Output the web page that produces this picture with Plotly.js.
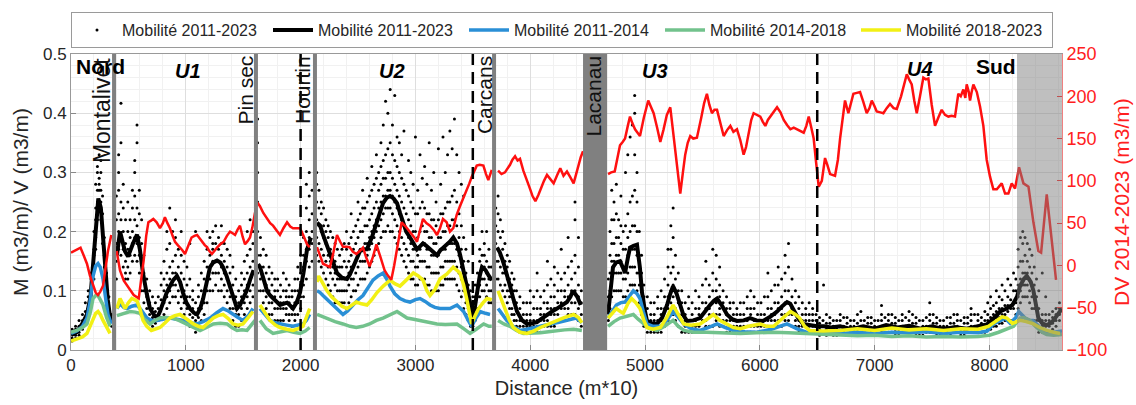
<!DOCTYPE html>
<html><head><meta charset="utf-8">
<script src="https://cdn.plot.ly/plotly-3.0.1.min.js"></script>
<style>html,body{margin:0;padding:0;background:#fff}#chart{width:1136px;height:405px}</style>
</head><body><div id="chart"></div>
<script>
// ---- Data ----
// Smoothed mobility 2011-2023 (black line); null = break at boundary lines
const blackX = [0,50,100,139,170,192,215,238,260,280,296,320,345,375,
400,427,470,497,540,575,600,627,660,688,720,749,775,801,830,862,890,923,950,975,1005,1036,1070,1098,1125,1150,1180,1211,1240,1272,1300,1324,1355,1385,1415,1446,1470,1498,1530,1559,1590,1611,
1630,1646,1680,1707,1735,1760,1790,1820,1850,1882,1910,1934,1965,1995,2025,2056,2090,2125,
2143,2170,2195,2225,2256,2290,2317,2360,2404,2430,2456,2490,2517,2550,2578,2620,2665,2690,2718,2750,2779,2810,2840,2865,2892,2920,2953,2985,3014,3040,3066,3095,3127,3160,3188,3215,3240,3270,3300,3330,3362,3390,3414,3445,3476,3495,3520,3536,3560,3580,3610,3640,3665,3685,
3711,3735,3763,3795,3824,3855,3885,3930,3972,4015,4059,4100,4146,4190,4233,4275,4320,4350,4373,4410,4440,4560,
4678,4700,4721,4750,4782,4805,4826,4850,4869,4900,4930,4955,4974,5000,5017,5060,5104,5150,5192,5220,5244,5275,5305,5336,5366,5420,5479,5520,5566,5600,5627,5670,5714,5760,5801,5860,5915,5970,6028,6090,6150,6195,6237,6265,6289,6330,6376,6440,6498,6560,6620,6699,6750,6800,6900,7000,7100,7200,7300,7400,7500,7600,7700,7800,7900,7976,8030,8093,8150,8200,8240,8267,8300,8325,8360,8383,8426,8460,8499,8530,8557,8590,8632];
const blackY = [0.025,0.03,0.045,0.06,0.09,0.14,0.2,0.256,0.24,0.19,0.14,0.085,0.05,null,
0.16,0.2,0.167,0.158,0.18,0.195,0.17,0.13,0.095,0.07,0.06,0.054,0.065,0.08,0.095,0.108,0.118,0.125,0.115,0.097,0.08,0.07,0.063,0.06,0.07,0.086,0.115,0.14,0.148,0.151,0.148,0.14,0.125,0.108,0.088,0.07,0.075,0.086,0.1,0.118,0.135,null,
0.145,0.14,0.118,0.1,0.092,0.087,0.08,0.076,0.078,0.08,0.075,0.07,0.08,0.097,0.13,0.17,0.19,null,
0.215,0.21,0.195,0.18,0.162,0.145,0.13,0.122,0.12,0.128,0.14,0.155,0.167,0.17,0.17,0.19,0.215,0.232,0.248,0.257,0.26,0.256,0.248,0.232,0.215,0.2,0.19,0.178,0.17,0.175,0.18,0.176,0.17,0.163,0.16,0.168,0.172,0.178,0.183,0.19,0.18,0.16,0.14,0.11,0.08,0.055,0.075,0.097,0.125,0.14,0.135,0.125,0.118,null,
0.173,0.165,0.15,0.13,0.108,0.085,0.065,0.05,0.044,0.045,0.047,0.053,0.06,0.065,0.07,0.076,0.081,0.09,0.1,0.09,0.076,null,
0.06,0.1,0.14,0.148,0.15,0.14,0.13,0.155,0.173,0.176,0.178,0.14,0.097,0.065,0.049,0.045,0.044,0.055,0.076,0.095,0.108,0.095,0.076,0.058,0.049,0.05,0.054,0.065,0.076,0.083,0.087,0.075,0.06,0.052,0.049,0.05,0.054,0.05,0.049,0.056,0.065,0.074,0.081,0.078,0.07,0.055,0.044,0.042,0.04,0.04,0.038,0.04,0.038,0.035,0.04,0.036,0.042,0.038,0.041,0.036,0.04,0.035,0.039,0.036,0.04,0.043,0.052,0.065,0.07,0.076,0.09,0.108,0.12,0.125,0.115,0.1,0.054,0.045,0.042,0.045,0.05,0.06,0.07];

// Mobility 2011-2014 (blue)
const blueX = [0,50,100,139,165,192,215,235,255,279,300,322,351,375,
400,427,460,488,530,575,610,662,700,749,800,862,920,975,1040,1098,1150,1211,1270,1324,1370,1411,1455,1498,1545,1585,1611,
1646,1690,1733,1780,1820,1880,1934,1980,2021,2050,2079,2125,
2143,2170,2195,2240,2282,2330,2369,2410,2456,2500,2543,2590,2630,2675,2718,2750,2779,2820,2866,2910,2953,3000,3040,3085,3127,3170,3214,3260,3301,3362,3420,3460,3490,3530,3565,3610,3650,3685,
3720,3760,3795,3850,3911,3970,4030,4100,4175,4250,4320,4400,4450,4560,
4678,4710,4750,4790,4826,4860,4898,4930,4956,4985,5017,5070,5133,5190,5244,5290,5336,5400,5479,5550,5627,5700,5772,5870,5975,6100,6237,6320,6405,6550,6699,6850,7000,7150,7300,7450,7600,7750,7900,7980,8034,8100,8135,8180,8230,8255,8290,8310,8350,8380,8430,8502,8560,8632];
const blueY = [0.028,0.032,0.04,0.054,0.08,0.125,0.142,0.146,0.14,0.12,0.09,0.06,0.044,null,
0.07,0.078,0.072,0.07,0.074,0.076,0.068,0.054,0.05,0.05,0.052,0.054,0.052,0.05,0.046,0.044,0.048,0.054,0.063,0.07,0.066,0.06,0.055,0.05,0.058,0.07,null,
0.07,0.06,0.05,0.046,0.044,0.042,0.04,0.042,0.044,0.05,0.06,null,
0.1,0.097,0.092,0.084,0.076,0.066,0.06,0.066,0.076,0.085,0.092,0.105,0.118,0.125,0.13,0.12,0.108,0.095,0.087,0.083,0.081,0.085,0.087,0.082,0.076,0.072,0.07,0.07,0.07,0.076,0.065,0.05,0.04,0.055,0.065,0.062,0.06,null,
0.07,0.06,0.05,0.04,0.033,0.035,0.038,0.04,0.044,0.047,0.05,0.054,0.046,null,
0.054,0.065,0.076,0.08,0.081,0.09,0.1,0.095,0.087,0.065,0.044,0.04,0.04,0.05,0.065,0.055,0.044,0.036,0.033,0.038,0.044,0.038,0.033,0.031,0.03,0.035,0.044,0.036,0.03,0.029,0.028,0.03,0.028,0.03,0.029,0.031,0.028,0.03,0.029,0.032,0.044,0.05,0.054,0.045,0.055,0.065,0.058,0.054,0.05,0.05,0.04,0.03,0.03,0.032];

// Mobility 2014-2018 (green)
const greenX = [0,50,100,139,170,192,215,235,255,279,310,340,375,
400,427,470,514,560,600,640,688,730,775,830,888,940,1001,1060,1124,1180,1240,1300,1359,1400,1446,1490,1533,1570,1603,1611,
1646,1700,1760,1820,1882,1940,1995,2040,2079,2125,
2143,2190,2230,2300,2369,2430,2485,2540,2601,2660,2718,2780,2840,2880,2927,2985,3040,3110,3188,3260,3327,3362,3420,3476,3530,3594,3640,3665,3685,
3720,3770,3824,3880,3940,4000,4088,4160,4233,4300,4378,4450,4560,
4678,4730,4782,4840,4898,4940,4985,5040,5104,5170,5244,5290,5340,5420,5537,5650,5830,5970,6120,6250,6405,6550,6699,6850,7000,7150,7300,7450,7600,7750,7900,8000,8080,8150,8210,8267,8300,8353,8400,8460,8499,8560,8632];
const greenY = [0.03,0.033,0.038,0.044,0.065,0.087,0.092,0.092,0.085,0.076,0.055,0.04,null,
0.058,0.06,0.062,0.065,0.064,0.062,0.052,0.044,0.05,0.054,0.055,0.054,0.05,0.044,0.038,0.033,0.038,0.044,0.045,0.044,0.038,0.033,0.034,0.033,0.042,0.05,null,
0.05,0.036,0.028,0.031,0.033,0.03,0.028,0.032,0.038,null,
0.06,0.056,0.054,0.048,0.044,0.04,0.038,0.04,0.044,0.05,0.054,0.06,0.065,0.06,0.054,0.052,0.05,0.046,0.044,0.043,0.044,0.044,0.036,0.028,0.035,0.044,0.04,0.04,null,
0.05,0.044,0.04,0.033,0.028,0.028,0.029,0.031,0.033,0.034,0.035,0.033,null,
0.04,0.048,0.054,0.057,0.06,0.052,0.044,0.036,0.033,0.04,0.05,0.04,0.033,0.03,0.03,0.029,0.028,0.029,0.03,0.029,0.028,0.027,0.026,0.024,0.025,0.023,0.024,0.022,0.023,0.022,0.023,0.025,0.03,0.035,0.04,0.054,0.055,0.05,0.04,0.03,0.026,0.025,0.026];

// Mobility 2018-2023 (yellow)
const yellowX = [0,50,100,139,165,192,215,235,255,279,310,340,375,
400,427,450,470,500,530,575,600,627,660,700,740,775,820,862,905,949,1010,1066,1110,1150,1195,1240,1280,1324,1370,1411,1455,1498,1545,1585,1611,
1646,1690,1733,1780,1820,1880,1934,1980,2021,2050,2079,2125,
2143,2157,2195,2230,2270,2317,2360,2404,2445,2485,2530,2578,2620,2665,2720,2779,2820,2866,2920,2982,3025,3066,3100,3127,3170,3214,3272,3330,3388,3420,3446,3470,3490,3520,3550,3590,3624,3665,3685,
3720,3750,3780,3815,3853,3910,3972,4030,4088,4160,4233,4300,4378,4420,4450,4560,
4678,4715,4750,4785,4811,4850,4883,4920,4956,4990,5017,5070,5133,5190,5244,5290,5336,5400,5479,5540,5595,5650,5714,5770,5830,5900,6004,6060,6120,6190,6266,6310,6347,6390,6434,6550,6699,6850,7000,7150,7300,7450,7600,7750,7900,7990,8064,8110,8151,8200,8238,8267,8320,8383,8440,8499,8560,8615];
const yellowY = [0.015,0.018,0.022,0.028,0.04,0.054,0.062,0.065,0.06,0.05,0.038,0.028,null,
0.07,0.087,0.078,0.07,0.08,0.087,0.083,0.07,0.05,0.04,0.033,0.035,0.038,0.046,0.054,0.058,0.06,0.052,0.044,0.04,0.038,0.046,0.054,0.058,0.06,0.053,0.044,0.042,0.044,0.055,0.065,null,
0.076,0.062,0.05,0.042,0.038,0.035,0.033,0.036,0.04,0.055,0.07,null,
0.115,0.125,0.112,0.1,0.09,0.081,0.074,0.07,0.075,0.081,0.078,0.076,0.085,0.097,0.108,0.118,0.112,0.108,0.118,0.13,0.125,0.118,0.1,0.092,0.102,0.12,0.128,0.14,0.13,0.11,0.087,0.06,0.044,0.058,0.07,0.08,0.087,0.085,null,
0.1,0.085,0.07,0.052,0.038,0.03,0.028,0.032,0.038,0.044,0.05,0.055,0.06,0.055,0.046,null,
0.054,0.063,0.07,0.065,0.062,0.078,0.087,0.08,0.07,0.05,0.038,0.035,0.038,0.055,0.076,0.06,0.044,0.042,0.044,0.052,0.06,0.05,0.044,0.038,0.036,0.04,0.044,0.04,0.04,0.052,0.065,0.06,0.054,0.04,0.033,0.032,0.033,0.036,0.033,0.037,0.034,0.036,0.033,0.036,0.035,0.04,0.05,0.056,0.054,0.045,0.048,0.05,0.048,0.044,0.038,0.033,0.03,0.028];

// DV 2014-2023 (red, right axis)
const dvX = [0,40,83,110,139,165,192,215,235,255,279,300,322,351,375,
398,427,460,488,520,546,590,610,633,655,674,697,717,746,775,800,818,840,862,885,906,930,949,970,993,1020,1050,1075,1098,1120,1141,1165,1185,1205,1228,1250,1272,1300,1330,1358,1385,1408,1429,1450,1472,1495,1516,1540,1559,1580,1603,1611,
1625,1646,1675,1707,1735,1760,1790,1820,1850,1882,1910,1934,1965,1995,2025,2056,2079,2125,
2143,2170,2195,2225,2256,2285,2317,2345,2369,2400,2427,2456,2485,2515,2543,2570,2601,2630,2660,2695,2732,2760,2790,2815,2840,2860,2880,2915,2953,2985,3014,3040,3066,3095,3127,3160,3188,3214,3240,3272,3301,3330,3360,3388,3420,3447,3470,3490,3534,3560,3592,3615,3635,3665,3685,
3720,3750,3780,3824,3845,3868,3890,3911,3940,3972,4000,4020,4045,4070,4088,4120,4146,4175,4204,4235,4262,4290,4320,4350,4378,4400,4421,4440,4460,4560,
4678,4705,4736,4760,4782,4805,4826,4850,4869,4890,4913,4935,4956,4990,5028,5050,5075,5105,5133,5160,5190,5220,5242,5264,5285,5307,5330,5350,5372,5394,5420,5452,5490,5515,5539,5560,5583,5605,5627,5655,5685,5715,5743,5770,5801,5830,5859,5880,5905,5925,5946,5975,6004,6025,6048,6070,6091,6120,6150,6180,6208,6237,6266,6295,6324,6350,6382,6405,6426,6450,6469,6490,6513,6540,6568,6590,6612,6655,6680,6699,6720,6742,6771,6795,6815,6845,6873,6900,6931,6955,6975,7000,7018,7050,7076,7105,7134,7165,7193,7230,7255,7280,7300,7323,7345,7367,7395,7424,7446,7468,7497,7526,7555,7584,7613,7642,7670,7700,7715,7729,7750,7773,7790,7802,7820,7831,7845,7860,7890,7918,7947,7976,8005,8034,8064,8107,8136,8165,8194,8223,8258,8296,8340,8383,8426,8450,8499,8542,8580];
const dvY = [15,18,21,12,2,-12,-24,-32,-35,-31,-24,-5,17,36,null,
17,-6,-18,-24,-30,-35,-39,-20,6,35,51,53,55,51,44,50,57,50,44,35,28,24,21.6,18,13.6,22,33,35,36,32,28,24,21.6,17,13.6,18,21,25,28,35,40,38,36,42,47,34,25,29,33,45,62.5,null,
74,70,62,55,50,47,42,36,44,51,46,44,44,44,35,25,21.6,null,
21.6,10,2,0,-2,15,36,28,22,22,21.6,16,13.6,17,21,10,-1,10,25,10,-6,-12,-17,0,21.6,38,51,46,40,34,28,40,55,50,47,42,36,44,55,51,40,44,60,70,80,90,97,104.5,118,119,118,108,101,113,null,
112,108,110,119,125,129,124,126,112,101,90,82,76,83,90,100,107,102,97,107,115,106,111,104,97,108,119,128,135,null,
108,110,111,128,142,146,150,165,176,168,161,157,153,175,195,188,180,163,146,160,178,187,160,131,105,85,110,131,145,153,150,151,175,192,203,190,180,184,184,168,153,160,165,158,161,148,131,140,160,172,180,178,176,170,165,172,176,182,187,181,172,166,161,163,161,159,157,165,176,162,150,122,93,100,127,118,108,106,125,150,175,195,180,192,203,204,205,194,180,186,195,188,182,181,180,186,191,186,185,200,212,226,220,214,195,180,200,222,220,221,190,165,175,184,178,176,177,176,190,203,200,208,198,214,205,195,205,214,205,188,165,125,105,90,90,97,85,85,97,91,116,97,93,51,17,15,84,29,-17];

// Scatter of individual mobility values: [distance, values...]
const mobilityDots = [
[10,0.02,0.03,0.035,0.015],[40,0.025,0.035,0.04,0.02],[70,0.03,0.04,0.05,0.025],[100,0.04,0.05,0.06,0.035],[125,0.05,0.065,0.08,0.045],[150,0.07,0.09,0.1,0.06],[175,0.1,0.12,0.13,0.085],[200,0.14,0.17,0.16,0.12,0.2],[215,0.19,0.22,0.24,0.17,0.28],[230,0.23,0.25,0.27,0.22,0.3,0.31],[245,0.24,0.27,0.29,0.25,0.33,0.28],[260,0.22,0.25,0.27,0.3,0.32],[275,0.18,0.2,0.23,0.26],[290,0.14,0.16,0.19,0.12],[310,0.09,0.11,0.13,0.07],[330,0.06,0.07,0.09,0.05],[355,0.04,0.05,0.06],
[395,0.12,0.15,0.18,0.22,0.26],[415,0.17,0.2,0.23,0.27,0.3,0.33],[435,0.16,0.19,0.22,0.25,0.35,0.417],[455,0.14,0.17,0.2,0.24,0.28],[475,0.13,0.15,0.18,0.22,0.12],[495,0.12,0.14,0.17,0.2,0.25],[515,0.13,0.16,0.19,0.22],[535,0.15,0.18,0.2,0.24,0.27],[555,0.16,0.19,0.22,0.26,0.3,0.32],[575,0.15,0.18,0.21,0.24,0.35,0.38],[595,0.13,0.16,0.19,0.23,0.27],[615,0.1,0.13,0.15,0.18,0.22],[635,0.08,0.1,0.13,0.16],[660,0.07,0.09,0.1,0.12],
[685,0.05,0.06,0.08,0.1],[710,0.04,0.055,0.07,0.09],[735,0.045,0.05,0.065,0.08],[760,0.05,0.06,0.07,0.09],[785,0.055,0.07,0.085,0.11,0.13],[810,0.06,0.08,0.1,0.12,0.15],[835,0.07,0.09,0.11,0.13,0.17,0.2],[860,0.08,0.1,0.12,0.14,0.18,0.24],[885,0.09,0.11,0.13,0.15,0.2],[910,0.09,0.11,0.13,0.16,0.19,0.22],[935,0.08,0.1,0.12,0.14,0.17],[960,0.07,0.09,0.11,0.13,0.16,0.2],[985,0.06,0.08,0.1,0.12,0.15],[1010,0.05,0.07,0.09,0.11,0.14],[1035,0.04,0.06,0.07,0.09,0.12,0.18],[1060,0.04,0.055,0.07,0.085,0.1],[1085,0.03,0.05,0.06,0.08,0.2],[1110,0.04,0.055,0.07,0.09,0.11],[1135,0.05,0.07,0.08,0.1,0.13],[1160,0.06,0.08,0.1,0.12,0.15],[1185,0.08,0.1,0.12,0.14,0.17,0.2],[1210,0.1,0.12,0.14,0.16,0.19],[1235,0.1,0.13,0.15,0.17,0.2,0.18],[1260,0.11,0.13,0.15,0.18,0.21],[1285,0.1,0.13,0.15,0.17,0.19],[1310,0.1,0.12,0.14,0.16,0.18,0.21],[1335,0.09,0.11,0.13,0.15,0.18],[1360,0.08,0.1,0.12,0.14,0.17],[1385,0.07,0.09,0.11,0.13,0.16],[1410,0.05,0.07,0.09,0.11,0.14],[1435,0.04,0.06,0.07,0.09,0.12],[1460,0.04,0.06,0.08,0.1],[1485,0.05,0.07,0.09,0.11,0.13],[1510,0.06,0.08,0.1,0.12,0.15],[1535,0.07,0.09,0.11,0.13,0.16,0.2],[1560,0.08,0.1,0.12,0.14,0.17,0.22],[1585,0.09,0.11,0.13,0.15,0.18,0.2],
[1625,0.1,0.13,0.16,0.2,0.25,0.3,0.35,0.39],[1650,0.1,0.12,0.14,0.16,0.19],[1675,0.08,0.1,0.12,0.14,0.17],[1700,0.07,0.09,0.11,0.13,0.16],[1725,0.06,0.08,0.1,0.12,0.14],[1750,0.06,0.08,0.09,0.11,0.13],[1775,0.05,0.07,0.09,0.1,0.12],[1800,0.05,0.07,0.08,0.1,0.12],[1825,0.05,0.07,0.08,0.09,0.11],[1850,0.05,0.07,0.08,0.1,0.13],[1875,0.06,0.07,0.09,0.1,0.12],[1900,0.05,0.06,0.08,0.09,0.11],[1925,0.04,0.06,0.07,0.09,0.1],[1950,0.05,0.06,0.08,0.1,0.12],[1975,0.06,0.08,0.1,0.12,0.14],[2000,0.07,0.09,0.11,0.13,0.16],[2025,0.09,0.11,0.14,0.16,0.19],[2050,0.12,0.15,0.17,0.2,0.24,0.28],[2075,0.14,0.17,0.19,0.22,0.26,0.3],[2100,0.15,0.18,0.2,0.23,0.27],
[2140,0.16,0.19,0.22,0.25,0.28,0.3],[2160,0.15,0.18,0.21,0.24,0.27],[2180,0.14,0.17,0.2,0.23,0.25],[2200,0.13,0.16,0.19,0.21,0.24],[2220,0.12,0.15,0.18,0.2,0.22],[2240,0.11,0.14,0.16,0.19,0.21],[2260,0.1,0.13,0.15,0.17,0.2],[2280,0.09,0.12,0.14,0.16,0.19],[2300,0.08,0.11,0.13,0.15,0.18],[2320,0.08,0.1,0.12,0.14,0.17],[2340,0.08,0.1,0.12,0.14,0.16],[2360,0.08,0.1,0.12,0.14,0.17],[2380,0.08,0.1,0.12,0.15,0.18],[2400,0.07,0.1,0.12,0.14,0.17,0.2],[2420,0.08,0.11,0.13,0.15,0.18],[2440,0.09,0.12,0.14,0.16,0.19,0.23],[2460,0.1,0.12,0.14,0.17,0.2],[2480,0.1,0.13,0.15,0.18,0.21],[2500,0.11,0.14,0.16,0.19,0.22,0.25],[2520,0.12,0.15,0.17,0.2,0.23],[2540,0.12,0.15,0.17,0.2,0.24,0.27],[2560,0.12,0.15,0.18,0.21,0.24],[2580,0.13,0.16,0.18,0.21,0.25,0.29],[2600,0.14,0.17,0.19,0.22,0.26],[2620,0.15,0.18,0.2,0.23,0.27,0.31],[2640,0.16,0.19,0.21,0.24,0.28],[2660,0.17,0.2,0.22,0.25,0.29,0.33],[2680,0.18,0.21,0.24,0.27,0.3],[2700,0.19,0.22,0.25,0.28,0.31,0.35],[2720,0.2,0.23,0.26,0.29,0.32,0.38],[2740,0.2,0.24,0.26,0.29,0.33,0.42],[2760,0.21,0.24,0.27,0.3,0.34,0.4],[2780,0.2,0.24,0.27,0.3,0.35,0.44],[2800,0.2,0.23,0.26,0.29,0.33,0.38],[2820,0.19,0.22,0.25,0.28,0.32,0.43],[2840,0.18,0.21,0.24,0.27,0.31,0.36],[2860,0.17,0.2,0.23,0.26,0.3,0.35],[2880,0.16,0.19,0.22,0.25,0.29,0.33],[2900,0.15,0.18,0.21,0.24,0.28,0.37],[2920,0.14,0.17,0.2,0.23,0.27],[2940,0.13,0.16,0.19,0.22,0.26,0.32],[2960,0.12,0.15,0.18,0.21,0.25,0.3],[2980,0.12,0.15,0.17,0.2,0.24,0.28],[3000,0.11,0.14,0.17,0.2,0.23,0.36],[3020,0.11,0.14,0.16,0.19,0.23,0.27],[3040,0.12,0.15,0.17,0.2,0.24,0.33],[3060,0.12,0.15,0.18,0.21,0.25,0.29],[3080,0.12,0.15,0.18,0.2,0.24,0.31],[3100,0.11,0.14,0.17,0.2,0.23,0.28],[3120,0.11,0.14,0.17,0.19,0.23,0.35],[3140,0.1,0.13,0.16,0.19,0.22,0.27],[3160,0.1,0.13,0.16,0.18,0.22,0.3],[3180,0.1,0.13,0.16,0.18,0.21,0.25],[3200,0.1,0.13,0.16,0.19,0.22,0.34],[3220,0.11,0.14,0.17,0.19,0.23,0.28],[3240,0.11,0.14,0.17,0.2,0.23,0.36],[3260,0.12,0.15,0.17,0.2,0.24,0.3],[3280,0.12,0.15,0.18,0.21,0.25,0.33],[3300,0.12,0.15,0.18,0.21,0.25,0.37],[3320,0.12,0.15,0.18,0.22,0.26,0.34],[3340,0.12,0.15,0.18,0.22,0.27,0.39],[3360,0.11,0.14,0.17,0.21,0.25,0.33],[3380,0.1,0.13,0.16,0.19,0.23,0.3],[3400,0.09,0.12,0.14,0.17,0.21,0.28],[3420,0.07,0.1,0.12,0.15,0.19,0.26],[3440,0.06,0.08,0.1,0.13,0.17],[3460,0.05,0.07,0.09,0.11,0.15],[3480,0.04,0.06,0.08,0.1],[3500,0.04,0.05,0.07,0.09],
[3520,0.05,0.07,0.09,0.11],[3540,0.07,0.09,0.11,0.13],[3560,0.09,0.11,0.13,0.15,0.17],[3580,0.1,0.12,0.14,0.16,0.2],[3600,0.1,0.12,0.14,0.16,0.18],[3620,0.09,0.11,0.13,0.15,0.2],[3640,0.08,0.1,0.12,0.14,0.17],[3660,0.08,0.1,0.12,0.14],
[3700,0.12,0.15,0.18,0.21,0.24],[3720,0.12,0.15,0.17,0.2,0.23,0.26],[3740,0.11,0.14,0.16,0.19,0.22],[3760,0.1,0.13,0.15,0.17,0.2],[3780,0.09,0.11,0.13,0.15,0.18],[3800,0.08,0.1,0.12,0.14,0.16],[3820,0.07,0.09,0.1,0.12,0.15],[3840,0.06,0.07,0.09,0.11,0.13],[3860,0.05,0.06,0.08,0.1,0.12],[3880,0.04,0.05,0.07,0.08,0.1],[3910,0.03,0.04,0.05,0.07,0.09],[3940,0.03,0.04,0.05,0.06,0.08],[3970,0.03,0.04,0.05,0.06,0.08],[4000,0.03,0.04,0.05,0.06,0.08,0.1],[4030,0.03,0.04,0.05,0.07,0.09],[4060,0.03,0.04,0.05,0.07,0.1,0.13],[4090,0.03,0.05,0.06,0.07,0.09],[4120,0.04,0.05,0.06,0.08,0.1],[4150,0.04,0.05,0.07,0.08,0.11,0.15],[4180,0.04,0.06,0.07,0.09,0.12],[4210,0.04,0.06,0.07,0.09,0.11,0.14],[4240,0.05,0.06,0.08,0.1,0.13],[4270,0.05,0.07,0.08,0.1,0.12,0.17],[4300,0.05,0.07,0.09,0.1,0.13],[4330,0.06,0.07,0.09,0.11,0.14,0.19],[4360,0.06,0.08,0.1,0.12,0.15],[4390,0.06,0.08,0.1,0.13,0.16,0.22,0.25],[4420,0.05,0.07,0.09,0.11,0.14,0.19],[4445,0.04,0.06,0.08,0.1],
[4680,0.05,0.07,0.09,0.12],[4695,0.07,0.1,0.13,0.16,0.2],[4710,0.09,0.12,0.15,0.18,0.22,0.27],[4730,0.1,0.13,0.15,0.18,0.22,0.25],[4750,0.1,0.13,0.16,0.19,0.23,0.28],[4770,0.1,0.13,0.16,0.19,0.22],[4790,0.1,0.13,0.15,0.18,0.21,0.26],[4810,0.09,0.12,0.14,0.17,0.2],[4830,0.09,0.12,0.14,0.17,0.21,0.3],[4850,0.1,0.13,0.16,0.19,0.23,0.33],[4870,0.11,0.14,0.17,0.2,0.25,0.36],[4890,0.11,0.14,0.17,0.21,0.26,0.38],[4910,0.11,0.14,0.17,0.21,0.27,0.33,0.4,0.43],[4930,0.1,0.13,0.16,0.2,0.25,0.3],[4950,0.08,0.11,0.13,0.16,0.2],[4970,0.06,0.08,0.1,0.13,0.16],[4990,0.04,0.06,0.07,0.09,0.11],
[5020,0.03,0.04,0.05,0.07,0.09],[5050,0.03,0.04,0.05,0.06,0.08],[5080,0.03,0.04,0.05,0.06,0.08],[5110,0.03,0.04,0.05,0.07,0.09],[5140,0.03,0.05,0.06,0.07,0.1],[5170,0.04,0.05,0.07,0.09,0.12],[5200,0.05,0.07,0.09,0.11,0.14,0.17],[5225,0.06,0.08,0.1,0.13,0.17,0.21],[5245,0.06,0.09,0.11,0.14,0.19,0.24],[5265,0.05,0.07,0.1,0.12,0.16],[5290,0.04,0.06,0.08,0.1,0.13],[5320,0.03,0.05,0.06,0.08,0.1],[5350,0.03,0.04,0.05,0.06,0.08],[5380,0.03,0.04,0.05,0.07,0.09],[5410,0.03,0.04,0.05,0.06,0.08],[5440,0.03,0.04,0.05,0.07,0.1],[5470,0.03,0.04,0.06,0.07,0.09],[5500,0.03,0.05,0.06,0.08,0.11],[5530,0.04,0.05,0.07,0.08,0.12,0.15],[5560,0.04,0.06,0.07,0.09,0.11],[5590,0.04,0.06,0.08,0.1,0.13,0.17],[5620,0.05,0.06,0.08,0.1,0.12,0.16],[5650,0.04,0.06,0.07,0.09,0.11,0.14],[5680,0.04,0.05,0.07,0.08,0.1],[5710,0.03,0.05,0.06,0.07,0.09],[5740,0.03,0.04,0.05,0.07,0.08],[5770,0.03,0.04,0.05,0.06,0.08],[5800,0.03,0.04,0.05,0.06,0.07],[5830,0.03,0.04,0.05,0.06,0.08],[5860,0.03,0.04,0.05,0.06,0.08],[5890,0.03,0.04,0.05,0.07,0.09],[5920,0.03,0.04,0.06,0.07,0.1],[5950,0.03,0.04,0.05,0.07,0.09],[5980,0.03,0.04,0.05,0.06,0.08],[6010,0.03,0.04,0.05,0.06,0.08],[6040,0.03,0.04,0.05,0.06,0.09],[6070,0.03,0.04,0.05,0.07,0.09,0.13],[6100,0.03,0.05,0.06,0.07,0.1],[6130,0.04,0.05,0.06,0.08,0.11],[6160,0.04,0.05,0.07,0.08,0.11,0.14],[6190,0.04,0.06,0.07,0.09,0.12],[6220,0.05,0.06,0.08,0.1,0.13,0.16],[6250,0.05,0.06,0.08,0.1,0.14,0.18],[6280,0.04,0.06,0.07,0.09,0.12],[6310,0.04,0.05,0.06,0.08,0.1],[6340,0.03,0.04,0.05,0.07,0.09],[6370,0.03,0.04,0.05,0.06,0.08],[6400,0.03,0.04,0.05,0.06,0.07],[6430,0.03,0.04,0.05,0.06,0.08],[6460,0.03,0.04,0.05,0.06,0.07],[6490,0.03,0.04,0.05,0.06],
[6520,0.025,0.035,0.045,0.055],[6555,0.11],[6580,0.025,0.035,0.045,0.06],[6640,0.025,0.03,0.04,0.05],[6700,0.03,0.04,0.05,0.06],[6760,0.025,0.035,0.045,0.055],[6820,0.025,0.03,0.04,0.05],[6880,0.03,0.04,0.05,0.065],[6940,0.025,0.035,0.045,0.055],[7000,0.025,0.03,0.04,0.05],[7060,0.03,0.04,0.05,0.06,0.075],[7120,0.03,0.04,0.05,0.06],[7180,0.025,0.035,0.045,0.055],[7240,0.03,0.04,0.05,0.06],[7300,0.03,0.04,0.05,0.065],[7360,0.025,0.035,0.045,0.055],[7420,0.025,0.035,0.04,0.05],[7480,0.03,0.04,0.05,0.06,0.08],[7540,0.025,0.035,0.045,0.055],[7600,0.025,0.03,0.04,0.05],[7660,0.025,0.035,0.045,0.055],[7720,0.03,0.04,0.05,0.06],[7780,0.025,0.035,0.045,0.055],[7840,0.03,0.04,0.05,0.06,0.07],[7900,0.03,0.04,0.05,0.06],[7960,0.03,0.04,0.05,0.065],[8010,0.035,0.045,0.055,0.07,0.09],[8060,0.04,0.055,0.065,0.08,0.1],[8110,0.045,0.06,0.07,0.085,0.11],[8160,0.05,0.065,0.075,0.09,0.12],[8210,0.05,0.07,0.08,0.1,0.13],
[6550,0.03,0.04,0.05],[6610,0.03,0.045,0.055],[6670,0.025,0.035,0.05],[6730,0.03,0.04,0.055],[6790,0.03,0.04,0.05],[6850,0.025,0.035,0.045,0.06],[6910,0.03,0.04,0.05],[6970,0.03,0.045,0.055],[7030,0.025,0.035,0.05],[7090,0.03,0.04,0.055],[7150,0.03,0.045,0.06],[7210,0.025,0.035,0.05],[7270,0.03,0.04,0.055],[7330,0.03,0.045,0.06],[7390,0.025,0.035,0.05],[7450,0.03,0.04,0.055],[7510,0.03,0.045,0.06],[7570,0.025,0.04,0.05],[7630,0.03,0.04,0.055],[7690,0.03,0.045,0.06],[7750,0.025,0.035,0.05],[7810,0.03,0.045,0.055],[7870,0.03,0.04,0.06],[7930,0.03,0.045,0.055],[7985,0.035,0.05,0.06,0.08],[8035,0.04,0.05,0.06,0.075],[8085,0.045,0.055,0.07,0.09],[8135,0.05,0.06,0.075,0.1],[8185,0.05,0.07,0.085,0.11],[8230,0.06,0.08,0.1,0.12],
[8250,0.07,0.09,0.11,0.14,0.17],[8270,0.08,0.1,0.12,0.15,0.19],[8290,0.09,0.11,0.13,0.15,0.18,0.2],[8310,0.09,0.11,0.13,0.16,0.19],[8330,0.09,0.11,0.13,0.15,0.18],[8350,0.08,0.1,0.12,0.14,0.17],[8370,0.07,0.09,0.11,0.13,0.16],[8390,0.05,0.07,0.09,0.11,0.14],[8410,0.04,0.05,0.07,0.09,0.12],[8430,0.03,0.04,0.05,0.07,0.1],[8460,0.03,0.04,0.05,0.06,0.13],[8490,0.03,0.04,0.05,0.06,0.09],[8520,0.03,0.04,0.05,0.06],[8550,0.035,0.045,0.055,0.065],[8580,0.04,0.05,0.06,0.07],[8610,0.05,0.06,0.07,0.08]
];

const legendNames = ['Mobilité 2011-2023','Mobilité 2011-2023','Mobilité 2011-2014','Mobilité 2014-2018','Mobilité 2018-2023'];
const siteLabels = ['Montalivet','Pin sec','Hourtin','Carcans','Lacanau'];
const siteX = [270, 1516, 2012, 3598, 4547];
const zoneLabels = ['Nord','U1','U2','U3','U4','Sud'];
const zoneX = [261, 1019, 2796, 5087, 7395, 8057];
const zoneY = [0.479, 0.471, 0.471, 0.471, 0.475, 0.479];
const grayLinesX = [375, 1611, 2125, 3685];
const dashedLinesX = [2000, 3500, 6500];
const lacanauBand = [4460, 4670];
const southShade = [8240, 8632];

// ---- Build ----
const dotX = [], dotY = [];
mobilityDots.forEach(r => { for (let i = 1; i < r.length; i++) { dotX.push(r[0]); dotY.push(r[i]); } });

const FONT = 'Liberation Sans, Arial, sans-serif';
const traces = [
  {x: dotX, y: dotY, type: 'scatter', mode: 'markers', name: legendNames[0],
   marker: {color: '#000', size: 3}},
  {x: blackX, y: blackY, type: 'scatter', mode: 'lines', name: legendNames[1], connectgaps: false,
   line: {color: '#000', width: 4}},
  {x: blueX, y: blueY, type: 'scatter', mode: 'lines', name: legendNames[2], connectgaps: false,
   line: {color: '#2a8fd6', width: 3.5}},
  {x: greenX, y: greenY, type: 'scatter', mode: 'lines', name: legendNames[3], connectgaps: false,
   line: {color: '#72c28c', width: 3.5}},
  {x: yellowX, y: yellowY, type: 'scatter', mode: 'lines', name: legendNames[4], connectgaps: false,
   line: {color: '#f2f014', width: 3.5}},
  {x: dvX, y: dvY, type: 'scatter', mode: 'lines', name: 'DV', yaxis: 'y2', showlegend: false, connectgaps: false,
   line: {color: '#ff1010', width: 2.5}}
];

const shapes = [];
grayLinesX.forEach(v => shapes.push({type: 'line', xref: 'x', yref: 'paper', x0: v, x1: v, y0: 0, y1: 1,
  line: {color: '#808080', width: 4}, layer: 'above'}));
dashedLinesX.forEach(v => shapes.push({type: 'line', xref: 'x', yref: 'paper', x0: v, x1: v, y0: 0, y1: 1,
  line: {color: '#000', width: 2.5, dash: '12px,7px'}, layer: 'above'}));
shapes.push({type: 'rect', xref: 'x', yref: 'paper', x0: lacanauBand[0], x1: lacanauBand[1], y0: 0, y1: 1,
  fillcolor: '#808080', line: {width: 0}, layer: 'above'});
shapes.push({type: 'rect', xref: 'x', yref: 'paper', x0: southShade[0], x1: southShade[1], y0: 0, y1: 1,
  fillcolor: 'rgba(128,128,128,0.5)', line: {width: 0}, layer: 'above'});

const annotations = [];
siteLabels.forEach((t, i) => annotations.push({text: t, xref: 'x', yref: 'paper', x: siteX[i],
  y: i === 0 ? 0.623 : 1, yanchor: i === 0 ? 'bottom' : 'top', xanchor: 'center', textangle: -90, showarrow: false,
  font: {family: FONT, size: i === 0 ? 23 : 21, color: '#111'}}));
zoneLabels.forEach((t, i) => {
  const italic = t.charAt(0) === 'U';
  annotations.push({text: italic ? '<b><i>' + t + '</i></b>' : '<b>' + t + '</b>', xref: 'x', yref: 'y',
    x: zoneX[i], y: zoneY[i], showarrow: false, font: {family: FONT, size: italic ? 20 : 21, color: '#000'}});
});

const layout = {
  width: 1136, height: 405,
  margin: {l: 71, r: 74, t: 42, b: 55},
  paper_bgcolor: '#fff', plot_bgcolor: '#fff',
  font: {family: FONT, color: '#262626'},
  showlegend: true,
  legend: {orientation: 'h', x: 0, xanchor: 'left', y: 1.02, yanchor: 'bottom',
    bordercolor: '#9a9a9a', borderwidth: 1, bgcolor: '#fff',
    font: {family: FONT, size: 16, color: '#262626'}, entrywidth: 141, entrywidthmode: 'pixels',
    tracegroupgap: 0, itemwidth: 40},
  xaxis: {range: [0, 8632], tickvals: [0,1000,2000,3000,4000,5000,6000,7000,8000],
    ticks: 'inside', ticklen: 5, tickcolor: '#888', showline: true, linecolor: '#999', linewidth: 1, mirror: true,
    showgrid: true, gridcolor: '#dedede', zeroline: false,
    minor: {dtick: 200, showgrid: true, gridcolor: '#f1f1f1', ticks: ''},
    tickfont: {size: 17, color: '#262626'},
    title: {text: 'Distance (m*10)', font: {size: 20, color: '#262626'}, standoff: 6}},
  yaxis: {range: [0, 0.5], dtick: 0.1,
    ticks: 'inside', ticklen: 5, tickcolor: '#888', showline: true, linecolor: '#999', linewidth: 1,
    showgrid: true, gridcolor: '#dedede', zeroline: false,
    minor: {dtick: 0.02, showgrid: true, gridcolor: '#f1f1f1', ticks: ''},
    tickfont: {size: 17, color: '#262626'},
    title: {text: 'M (m3/m)/ V (m3/m)', font: {size: 21, color: '#262626'}, standoff: 8}},
  yaxis2: {range: [-100, 250], dtick: 50, overlaying: 'y', side: 'right',
    ticks: 'inside', ticklen: 5, tickcolor: '#ff2020', showline: true, linecolor: '#f08080', linewidth: 1,
    showgrid: false, zeroline: false,
    tickfont: {size: 18, color: '#ff2020'},
    title: {text: 'DV 2014-2023 (m3/m)', font: {size: 21, color: '#ff2020'}, standoff: 8}},
  shapes: shapes,
  annotations: annotations
};
layout.yaxis.tickvals = [0,0.1,0.2,0.3,0.4,0.5];
layout.yaxis.ticktext = ['0','0.1','0.2','0.3','0.4','0.5'];

Plotly.newPlot('chart', traces, layout, {displayModeBar: false, staticPlot: true});
</script>
</body></html>
